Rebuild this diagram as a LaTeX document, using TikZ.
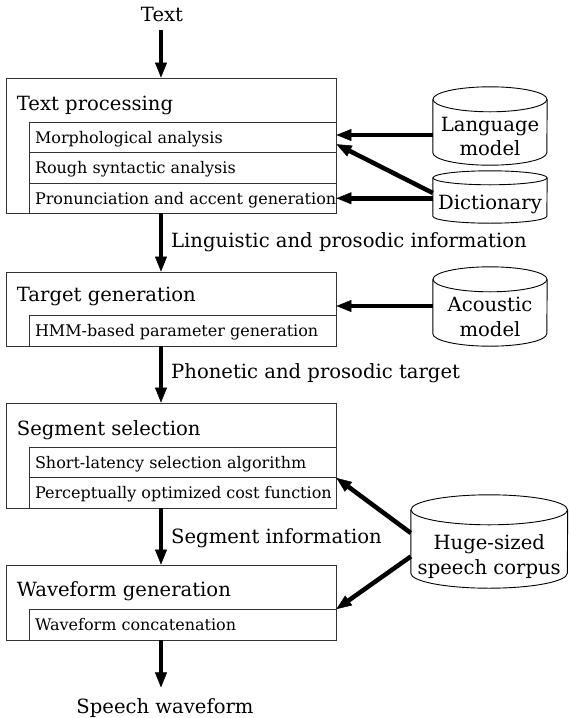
\documentclass[tikz,border=0pt]{standalone}
\usepackage{fontspec}
\setmainfont{DejaVu Serif}
\usetikzlibrary{arrows.meta}

% type sizes: stage titles / flow labels, and sub-step rows
\newcommand\bigtxt{\fontsize{19.6pt}{24.5pt}\selectfont}
\newcommand\smtxt{\fontsize{16pt}{19pt}\selectfont}
% left-aligned row content that never wraps
\newcommand\rowtext[1]{\hbox to 295pt{#1\hss}}

% database drum drawn around a named node:
% #1 node, #2 half width, #3 half height of the end ellipses
\newcommand\drum[3]{%
  \draw[drumline] ([yshift=#3]#1.north west) -- ([yshift=#3]#1.south west)
    arc[start angle=180, end angle=360, x radius=#2, y radius=#3]
    -- ([yshift=#3]#1.north east);
  \draw[drumline] ([yshift=#3]#1.north) ellipse [x radius=#2, y radius=#3];
}

\begin{document}
\begin{tikzpicture}[x=1pt, y=-1pt,
  stage/.style={draw=black!80, line width=0.9pt, minimum width=329.5pt, inner sep=0pt},
  row/.style={draw=black!80, line width=0.9pt, minimum width=307pt, minimum height=30.5pt,
    inner xsep=6pt, inner ysep=0pt, text height=14pt, text depth=2.5pt, font=\smtxt},
  stagetitle/.style={anchor=base west, inner sep=0pt, font=\bigtxt},
  flowlabel/.style={anchor=base west, inner sep=0pt, font=\bigtxt},
  drumtext/.style={inner sep=0pt, align=center, font=\bigtxt},
  drumline/.style={line width=0.9pt, draw=black},
  flow/.style={line width=4.5pt, -{Triangle[length=15pt, width=12pt, line width=0.5pt]}}]

\useasboundingbox (0,0) rectangle (569,718);
\coordinate (axis) at (161,0);

% input and output
\node[font=\bigtxt, anchor=base, inner xsep=0pt, inner ysep=8pt] (txt) at (162,21.7) {Text};
\node[font=\bigtxt, anchor=base, inner xsep=0pt, inner ysep=10.5pt] (sw) at (165,713) {Speech waveform};

% stage frames
\node[stage, minimum height=135pt] (tp) at (171.25,145.5) {};
\node[stage, minimum height=74pt]  (tg) at (171.25,309) {};
\node[stage, minimum height=105pt] (ss) at (171.25,455.5) {};
\node[stage, minimum height=75pt]  (wg) at (171.25,602.5) {};

% stage titles
\node[stagetitle] (tpt) at (16.7,110)   {Text processing};
\node[stagetitle] (tgt) at (16.7,301.7) {Target generation};
\node[stagetitle] (sst) at (16.7,435)   {Segment selection};
\node[stagetitle] (wgt) at (16.7,596.7) {Waveform generation};

% sub-steps
\node[row] (r1) at (182.5,137.25) {\rowtext{Morphological analysis}};
\node[row] (r2) at (182.5,167.75) {\rowtext{Rough syntactic analysis}};
\node[row] (r3) at (182.5,198.25) {\rowtext{Pronunciation and accent generation}};
\node[row] (h1) at (182.5,330.75) {\rowtext{HMM-based parameter generation}};
\node[row] (s1) at (182.5,462.25) {\rowtext{Short-latency selection algorithm}};
\node[row] (s2) at (182.5,492.75) {\rowtext{Perceptually optimized cost function}};
\node[row] (w1) at (182.5,624.75) {\rowtext{Waveform concatenation}};

% knowledge sources
\node[drumtext, minimum width=114pt, minimum height=53pt] (lm) at (490,138.5) {Language\\model\vphantom{p}};
\node[drumtext, minimum width=114pt, minimum height=38pt] (dc) at (490,204) {Dictionary};
\node[drumtext, minimum width=114pt, minimum height=54pt] (ac) at (490,319) {Acoustic\\model\vphantom{p}};
\node[drumtext, minimum width=156.5pt, minimum height=63pt] (hg) at (489.25,556.5) {Huge-sized\\speech corpus};
\drum{lm}{57pt}{12.5pt}
\drum{dc}{57pt}{7pt}
\drum{ac}{57pt}{12.5pt}
\drum{hg}{78.25pt}{15pt}

% main flow
\draw[flow] (axis |- txt.south) -- (axis |- tp.north);
\draw[flow] (axis |- tp.south) -- (axis |- tg.north);
\draw[flow] (axis |- tg.south) -- (axis |- ss.north);
\draw[flow] (axis |- ss.south) -- (axis |- wg.north);
\draw[flow] (axis |- wg.south) -- (axis |- sw.north);

\node[flowlabel] (l1) at (171,247)   {Linguistic and prosodic information};
\node[flowlabel] (l2) at (171,378.3) {Phonetic and prosodic target};
\node[flowlabel] (l3) at (171,543.3) {Segment information};

% knowledge feeds
\coordinate (lmend) at ([yshift=2.25pt]r1.east);
\coordinate (acend) at ([yshift=3pt]tg.east);
\draw[flow] (lmend -| lm.west) -- (lmend);
\draw[flow] ([yshift=11pt]dc.west) -- ([yshift=-7pt]r1.east);
\draw[flow] (r3.east -| dc.west) -- (r3.east);
\draw[flow] (acend -| ac.west) -- (acend);
\draw[flow] ([yshift=23.5pt]hg.west) -- (s1.south east);
\draw[flow] (hg.west) -- (w1.north east);
\end{tikzpicture}
\end{document}
